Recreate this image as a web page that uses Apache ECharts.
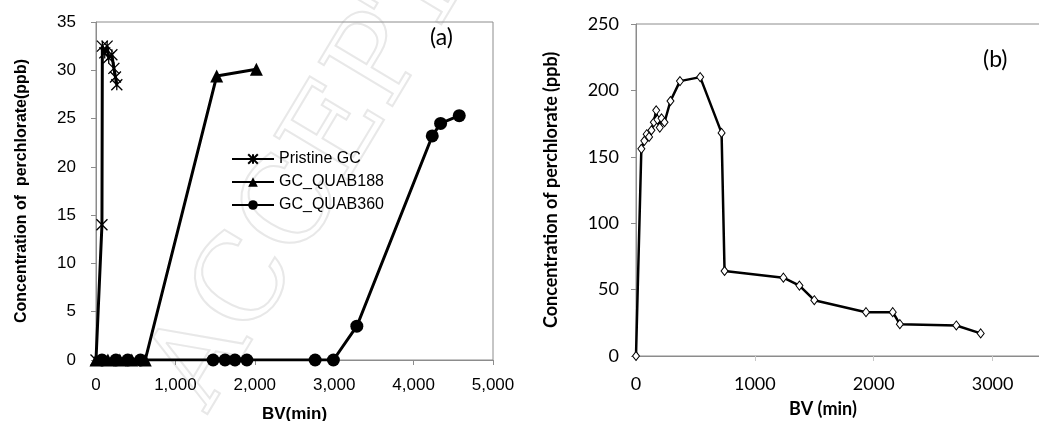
<!DOCTYPE html>
<html>
<head>
<meta charset="utf-8">
<script src="https://cdn.jsdelivr.net/npm/echarts@6/dist/echarts.min.js"></script>
<style>
  html, body { margin: 0; padding: 0; background: #fff; }
  #chart { width: 1039px; height: 421px; }
</style>
</head>
<body>
<div id="chart"></div>
<script>
// --- data, panel (a) ---
var pristineBV   = [0, 75, 80, 110, 140, 160, 200, 225, 245, 262];
var pristineConc = [0, 14, 32.5, 31.8, 32.5, 31.3, 31.6, 30.2, 29.3, 28.5];
var quab188BV    = [0, 150, 300, 450, 620, 1520, 2020];
var quab188Conc  = [0, 0, 0, 0, 0, 29.4, 30.1];
var quab360BV    = [75, 250, 400, 560, 1475, 1625, 1750, 1900, 2760, 2990, 3285, 4235, 4340, 4575];
var quab360Conc  = [0, 0, 0, 0, 0, 0, 0, 0, 0, 0, 3.5, 23.2, 24.5, 25.3];

// --- data, panel (b) ---
var panelBBV   = [0, 45, 70, 90, 110, 130, 150, 170, 180, 200, 215, 240, 290, 370, 540, 720, 745, 1240, 1375, 1500, 1935, 2160, 2220, 2695, 2900];
var panelBConc = [0, 156, 162, 167, 165, 170, 176, 185, 178, 172, 179, 176, 192, 207, 210, 168, 64, 59, 53, 42, 33, 33, 24, 23, 17];

var legendNames = ['Pristine GC', 'GC_QUAB188', 'GC_QUAB360'];

function zip(xs, ys) {
  return xs.map(function(x, i) { return [x, ys[i]]; });
}

var axisGray = '#8c8c8c';
var starPath = 'path://M0,0L10,10M10,0L0,10M5,0L5,10';

var chart = echarts.init(document.getElementById('chart'), null, { renderer: 'canvas' });
chart.setOption({
  animation: false,
  backgroundColor: '#fff',
  graphic: [
    {
      type: 'text', x: 232, y: 428, rotation: Math.PI / 180 * 59, z: -10, silent: true,
      style: { text: 'ACCEPTED', font: '118px "DejaVu Serif"', fill: 'none', stroke: '#e8e8e8', lineWidth: 2, verticalAlign: 'bottom' }
    },
    { type: 'text', left: 430, top: 26, style: { text: '(a)', font: '23px Lato', fill: '#000' } },
    { type: 'text', left: 983, top: 48, style: { text: '(b)', font: '23px Lato', fill: '#000' } }
  ],
  legend: {
    data: legendNames,
    orient: 'vertical',
    left: 226,
    top: 146,
    itemWidth: 42,
    itemHeight: 12,
    itemGap: 7,
    textStyle: { color: '#000', fontSize: 16, fontFamily: 'Liberation Sans' }
  },
  grid: [
    { left: 96, top: 22, width: 397, height: 338, show: true, borderColor: axisGray, borderWidth: 1, outerBoundsMode: 'none' },
    { left: 636, top: 24, width: 416, height: 332, show: true, borderColor: axisGray, borderWidth: 1, outerBoundsMode: 'none' }
  ],
  xAxis: [
    {
      gridIndex: 0, type: 'value', min: 0, max: 5000, interval: 1000,
      name: 'BV(min)', nameLocation: 'middle', nameGap: 46,
      nameTextStyle: { color: '#000', fontSize: 17, fontWeight: 'bold', fontFamily: 'Liberation Sans' },
      axisLine: { lineStyle: { color: axisGray } },
      axisTick: { show: true, length: 5, lineStyle: { color: axisGray } },
      splitLine: { show: false },
      axisLabel: {
        color: '#000', fontSize: 17, fontFamily: 'Liberation Sans', margin: 17,
        formatter: function(v) { return v.toLocaleString('en-US'); }
      }
    },
    {
      gridIndex: 1, type: 'value', min: 0, max: 3500, interval: 1000,
      name: 'BV (min)', nameLocation: 'middle', nameGap: 44,
      nameTextStyle: { color: '#000', fontSize: 18, fontWeight: 'bold', fontFamily: 'Lato', padding: [0, 42, 0, 0] },
      axisLine: { lineStyle: { color: axisGray } },
      axisTick: { show: true, length: 5, lineStyle: { color: '#c8c8c8' } },
      splitLine: { show: false },
      axisLabel: {
        color: '#000', fontSize: 18, fontFamily: 'Lato', margin: 19, showMaxLabel: false,
        formatter: function(v) { return String(v); }
      }
    }
  ],
  yAxis: [
    {
      gridIndex: 0, type: 'value', min: 0, max: 35, interval: 5,
      name: 'Concentration of  perchlorate(ppb)', nameLocation: 'middle', nameGap: 66,
      nameTextStyle: { color: '#000', fontSize: 16, fontWeight: 'bold', fontFamily: 'Liberation Sans' },
      axisLine: { show: true, lineStyle: { color: axisGray } },
      axisTick: { show: true, length: 5, lineStyle: { color: axisGray } },
      splitLine: { show: false },
      axisLabel: { color: '#000', fontSize: 17, fontFamily: 'Liberation Sans', margin: 20 }
    },
    {
      gridIndex: 1, type: 'value', min: 0, max: 250, interval: 50,
      name: 'Concentration of perchlorate (ppb)', nameLocation: 'middle', nameGap: 76,
      nameTextStyle: { color: '#000', fontSize: 18, fontWeight: 'bold', fontFamily: 'Lato' },
      axisLine: { show: true, lineStyle: { color: axisGray } },
      axisTick: { show: true, length: 5, lineStyle: { color: axisGray } },
      splitLine: { show: false },
      axisLabel: { color: '#000', fontSize: 18, fontFamily: 'Lato', margin: 17 }
    }
  ],
  series: [
    {
      name: 'Pristine GC', type: 'line', xAxisIndex: 0, yAxisIndex: 0,
      data: zip(pristineBV, pristineConc),
      symbol: starPath, symbolSize: 11, showAllSymbol: true,
      lineStyle: { color: '#000', width: 3 },
      itemStyle: { color: '#000', borderColor: '#000', borderWidth: 1.3 }
    },
    {
      name: 'GC_QUAB188', type: 'line', xAxisIndex: 0, yAxisIndex: 0,
      data: zip(quab188BV, quab188Conc),
      symbol: 'triangle', symbolSize: 13, showAllSymbol: true,
      lineStyle: { color: '#000', width: 3 },
      itemStyle: { color: '#000' }
    },
    {
      name: 'GC_QUAB360', type: 'line', xAxisIndex: 0, yAxisIndex: 0,
      data: zip(quab360BV, quab360Conc),
      symbol: 'circle', symbolSize: 13, showAllSymbol: true,
      lineStyle: { color: '#000', width: 3 },
      itemStyle: { color: '#000' }
    },
    {
      name: 'panel b', type: 'line', xAxisIndex: 1, yAxisIndex: 1,
      data: zip(panelBBV, panelBConc),
      symbol: 'diamond', symbolSize: [7, 9], showAllSymbol: true,
      lineStyle: { color: '#000', width: 2.5 },
      itemStyle: { color: '#fff', borderColor: '#000', borderWidth: 1 }
    }
  ]
});
</script>
</body>
</html>
